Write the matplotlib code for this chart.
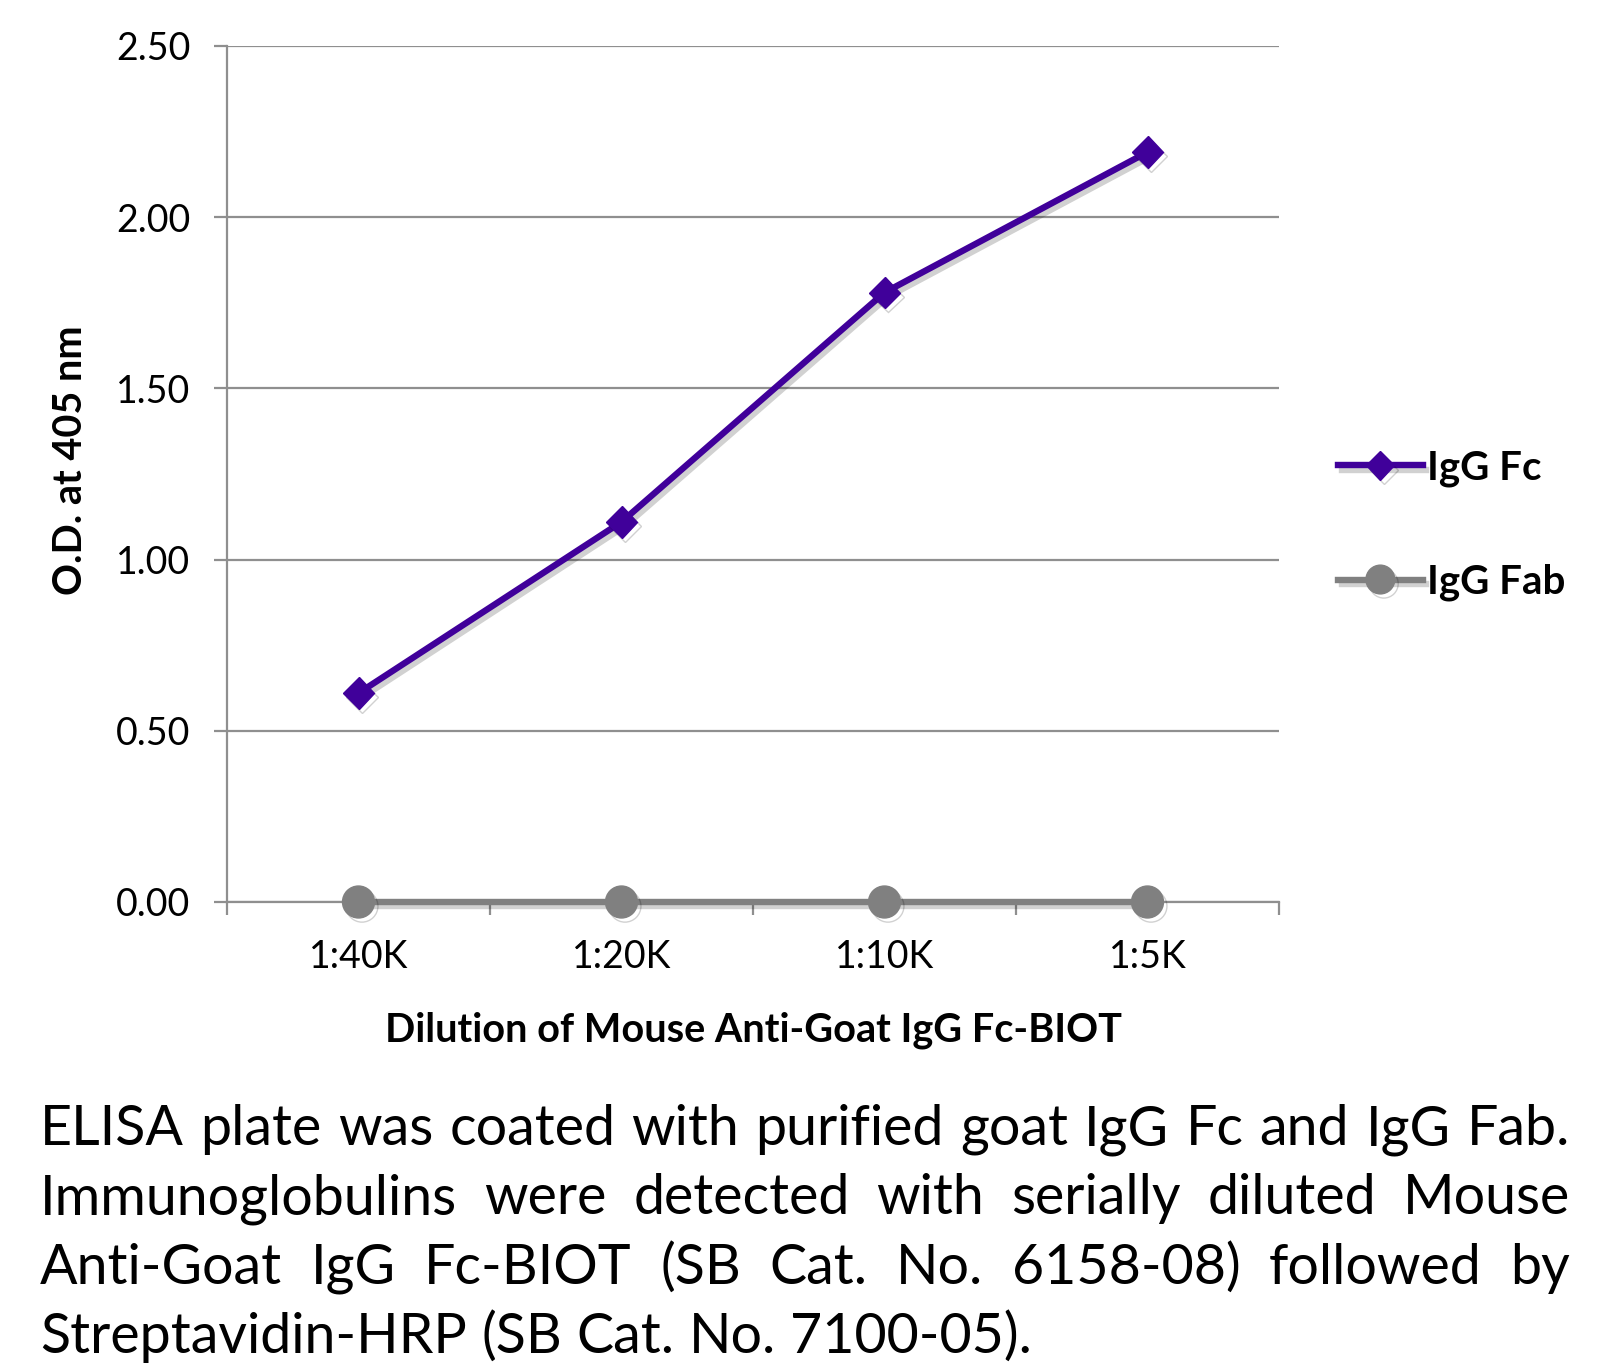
import numpy as np
import matplotlib
matplotlib.use("Agg")
import matplotlib.pyplot as plt
import matplotlib.patheffects as pe

# data
dilutions = ["1:40K", "1:20K", "1:10K", "1:5K"]
igg_fc = [0.61, 1.11, 1.78, 2.19]
igg_fab = [0.0, 0.0, 0.0, 0.0]
y_ticks = [0.0, 0.5, 1.0, 1.5, 2.0, 2.5]

caption_lines = [
    "ELISA plate was coated with purified goat IgG Fc and IgG Fab.",
    "Immunoglobulins were detected with serially diluted Mouse",
    "Anti-Goat IgG Fc-BIOT (SB Cat. No. 6158-08) followed by",
    "Streptavidin-HRP (SB Cat. No. 7100-05).",
]

plt.rcParams['font.family'] = ['Lato', 'DejaVu Sans']

W, H = 1617, 1369
fig = plt.figure(figsize=(W / 100, H / 100), dpi=100)
ax = fig.add_axes([227 / W, 1 - 902 / H, (1279 - 227) / W, (902 - 46) / H])

grid_c = "#8f8f8f"
purple = "#40009a"
gray = "#808080"

shadow = [pe.SimpleLineShadow(offset=(2.5, -3), shadow_color="k", alpha=0.18), pe.Normal()]

x = np.arange(len(dilutions))
ax.plot(x, igg_fc, color=purple, lw=4.6, marker="D", ms=16, label="IgG Fc",
        path_effects=shadow, zorder=4, clip_on=False)
ax.plot(x, igg_fab, color=gray, lw=4.6, marker="o", ms=23, label="IgG Fab",
        path_effects=shadow, zorder=4, clip_on=False)

ax.set_xlim(-0.5, len(dilutions) - 0.5)
ax.set_ylim(0, 2.5)
ax.set_yticks(y_ticks)
ax.set_yticklabels([f"{v:.2f}" for v in y_ticks])
ax.set_xticks(x)
ax.set_xticklabels(dilutions)
ax.set_xticks(np.arange(len(dilutions) + 1) - 0.5, minor=True)

ax.grid(axis="y", color=grid_c, lw=1.6)
ax.set_axisbelow(True)
for s in ["top", "right"]:
    ax.spines[s].set_visible(False)
for s in ["left", "bottom"]:
    ax.spines[s].set_color(grid_c)
    ax.spines[s].set_linewidth(1.6)

ax.tick_params(axis="y", length=9.5, width=1.6, color=grid_c, labelsize=27, pad=17)
ax.tick_params(axis="x", which="major", length=0, labelsize=27, pad=27)
ax.tick_params(axis="x", which="minor", length=9, width=1.6, color=grid_c)

ax.set_ylabel("O.D. at 405 nm", fontsize=28.5, fontweight="bold")
# label sits a bit above the axes centre in the original
ax.yaxis.set_label_coords(-0.131, 0.516)
ax.set_xlabel("Dilution of Mouse Anti-Goat IgG Fc-BIOT", fontsize=28.5,
              fontweight="bold", labelpad=26)

ax.legend(loc="center left", bbox_to_anchor=(1.037, 0.44), frameon=False,
          prop={"weight": "bold", "size": 29}, borderpad=0,
          handlelength=2.1, handletextpad=0.12, labelspacing=1.9,
          markerscale=0.9)

# justified caption
renderer = fig.canvas.get_renderer()
x_left, x_right = 40 / W, 1570 / W
cap_size = 40
for i, line in enumerate(caption_lines):
    y = 1 - (1145 + i * 69.3) / H
    words = line.split(" ")
    texts = [fig.text(0, y, w, fontsize=cap_size, va="baseline", ha="left") for w in words]
    widths = [t.get_window_extent(renderer).width / W for t in texts]
    if i < len(caption_lines) - 1:
        gap = (x_right - x_left - sum(widths)) / (len(words) - 1)
    else:
        sp = fig.text(0, 0, "a a", fontsize=cap_size)
        aa = fig.text(0, 0, "aa", fontsize=cap_size)
        gap = (sp.get_window_extent(renderer).width - aa.get_window_extent(renderer).width) / W
        sp.remove()
        aa.remove()
    xpos = x_left
    for t, w in zip(texts, widths):
        t.set_x(xpos)
        xpos += w + gap

fig.savefig("out.png", dpi=100)
